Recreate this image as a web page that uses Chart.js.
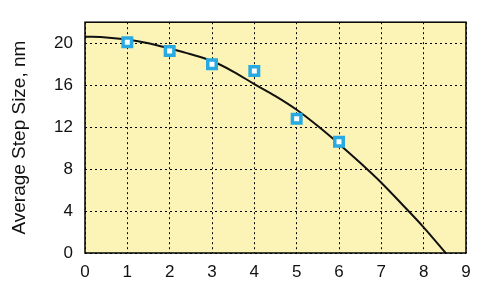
<!DOCTYPE html>
<html>
<head>
<meta charset="utf-8">
<script src="https://cdn.jsdelivr.net/npm/chart.js@4.4.1/dist/chart.umd.min.js"></script>
<style>
  html, body { margin: 0; padding: 0; background: #fff; }
  #wrap { width: 485px; height: 289px; }
</style>
</head>
<body>
<div id="wrap"><canvas id="chart" width="485" height="289"></canvas></div>
<script>
// Measured steps (squares)
const measX = [1, 2, 3, 4, 5, 6];
const measY = [20.1, 19.25, 18.0, 17.35, 12.8, 10.6];

// Fitted curve
const fitX = [0, 0.5, 1, 1.5, 2, 2.5, 3, 3.5, 4, 4.5, 5, 5.5, 6, 6.5, 7, 7.5, 8, 8.52];
const fitY = [20.62, 20.55, 20.35, 20.0, 19.5, 18.95, 18.3, 17.3, 16.1, 14.95, 13.65, 12.1, 10.4, 8.6, 6.7, 4.6, 2.45, 0];

const xTicks = [0, 1, 2, 3, 4, 5, 6, 7, 8, 9];
const yTicks = [0, 4, 8, 12, 16, 20];

const FONT = 'Liberation Sans, Arial, Helvetica, sans-serif';
const PLOT_BG = '#fcf4b6';
const MARK_BLUE = '#27a9e1';

// Yellow plot background + black frame round the plot area
const plotFrame = {
    id: 'plotFrame',
    beforeDraw(chart) {
        const { ctx, chartArea: a } = chart;
        ctx.save();
        ctx.fillStyle = PLOT_BG;
        ctx.fillRect(a.left, a.top, a.right - a.left, a.bottom - a.top);
        ctx.restore();
    },
    afterDatasetsDraw(chart) {
        const { ctx, chartArea: a } = chart;
        ctx.save();
        ctx.strokeStyle = '#000';
        ctx.lineWidth = 1.5;
        ctx.strokeRect(a.left, a.top, a.right - a.left, a.bottom - a.top);
        ctx.restore();
    },
};

new Chart(document.getElementById('chart'), {
    type: 'scatter',
    data: {
        datasets: [
            {
                label: 'Measured',
                data: measX.map((x, i) => ({ x, y: measY[i] })),
                pointStyle: 'rect',
                pointRadius: 6,
                pointBorderWidth: 3.5,
                pointBorderColor: MARK_BLUE,
                pointBackgroundColor: '#fff',
                showLine: false,
                order: 0,
            },
            {
                label: 'Fit',
                data: fitX.map((x, i) => ({ x, y: fitY[i] })),
                showLine: true,
                borderColor: '#111',
                borderWidth: 2,
                pointRadius: 0,
                cubicInterpolationMode: 'monotone',
                order: 1,
            },
        ],
    },
    options: {
        responsive: false,
        animation: false,
        layout: { padding: { top: 13, right: 19, left: 8, bottom: 0 } },
        plugins: { legend: { display: false }, tooltip: { enabled: false } },
        scales: {
            x: {
                type: 'linear',
                min: 0, max: 9,
                afterBuildTicks: s => { s.ticks = xTicks.map(v => ({ value: v })); },
                afterFit: s => { s.height = 36; },
                ticks: { color: '#111', font: { family: FONT, size: 17 }, padding: 9 },
                grid: { color: '#000', lineWidth: 1, drawTicks: false },
                border: { display: false, dash: [2, 3] },
            },
            y: {
                type: 'linear',
                min: 0, max: 22,
                afterBuildTicks: s => { s.ticks = yTicks.map(v => ({ value: v })); },
                afterFit: s => { s.width = 77; },
                ticks: { color: '#111', font: { family: FONT, size: 17 }, padding: 12 },
                grid: { color: '#000', lineWidth: 1, drawTicks: false },
                border: { display: false, dash: [2, 3] },
                title: {
                    display: true,
                    text: 'Average Step Size, nm',
                    color: '#111',
                    font: { family: FONT, size: 19 },
                    padding: { top: 0, bottom: 0 },
                },
            },
        },
    },
    plugins: [plotFrame],
});
</script>
</body>
</html>
